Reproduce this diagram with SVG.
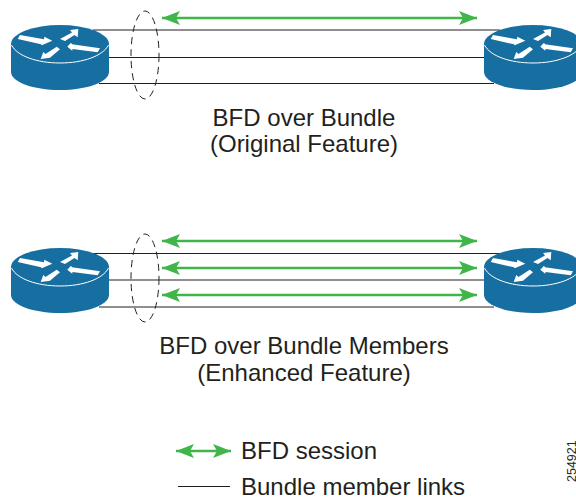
<svg xmlns="http://www.w3.org/2000/svg" width="576" height="497" viewBox="0 0 576 497">
<style>
text{font-family:"Liberation Sans",Arial,sans-serif;font-size:24px;fill:#231f20}
.c{text-anchor:middle}
.link{stroke:#231f20;stroke-width:1.2;fill:none}
.bfd{stroke:#3fb54a;stroke-width:2.4;fill:none;marker-start:url(#hs);marker-end:url(#he)}
.oval{stroke:#231f20;stroke-width:1;fill:none;stroke-dasharray:7 5}
</style>
<defs>
<marker id="he" markerUnits="userSpaceOnUse" markerWidth="19" markerHeight="16" refX="18" refY="8" orient="auto"><path d="M0 1L18 8L0 15L4 8Z" fill="#3fb54a"/></marker>
<marker id="hs" markerUnits="userSpaceOnUse" markerWidth="19" markerHeight="16" refX="1" refY="8" orient="auto"><path d="M19 1L1 8L19 15L15 8Z" fill="#3fb54a"/></marker>
<g id="router">
<path d="M0 19A49 19 0 0 1 98 19V47C98 57 76 65 49 65S0 57 0 47Z" fill="#166fa0"/>
<path d="M0.5 20C6 31 26 38 49 38S92 31 97.5 20" fill="none" stroke="#fff" stroke-width="1"/>
<path d="M9 10L33 14.3L33.3 11.7L41.3 15.7L30.7 20.3L30 19.3L6.7 14Z" fill="#fff"/>
<path d="M49 14L61 7.5L59 5L67.3 4L66.7 12.3L63.5 10L54 16Z" fill="#fff"/>
<path d="M56.3 21.7L60 17.7L61 19.3L89 23.3L86.7 27.3L61.5 24L61.3 25.7Z" fill="#fff"/>
<path d="M29.7 34L32.3 27L34.5 29L45.7 21.7L49 24.3L41 31L39 32.7Z" fill="#fff"/>
</g>
</defs>
<g id="connectors">
<path class="link" d="M93 30H500M109 57.5H484M99 83.5H494"/>
<path class="link" d="M93 253.5H500M109 280H484M99 307H494"/>
<path class="bfd" d="M162 18H477"/>
<path class="bfd" d="M162 241H477"/>
<path class="bfd" d="M162 268H477"/>
<path class="bfd" d="M162 295H477"/>
<ellipse class="oval" cx="145" cy="55" rx="14" ry="44"/>
<ellipse class="oval" cx="145" cy="278" rx="14" ry="44"/>
<path class="bfd" d="M176 451H231"/>
<path class="link" d="M178 486.5H230"/>
</g>
<g id="router-top-left"><use href="#router" x="11" y="25"/></g>
<g id="router-top-right"><use href="#router" x="484" y="25"/></g>
<g id="router-bottom-left"><use href="#router" x="11" y="248"/></g>
<g id="router-bottom-right"><use href="#router" x="484" y="248"/></g>
<g id="labels">
<text class="c" x="304" y="126">BFD over Bundle</text>
<text class="c" x="304" y="152">(Original Feature)</text>
<text class="c" x="304" y="354">BFD over Bundle Members</text>
<text class="c" x="304" y="381">(Enhanced Feature)</text>
<text x="241" y="459">BFD session</text>
<text x="241" y="495">Bundle member links</text>
<text x="0" y="0" transform="translate(576 482) rotate(-90)" style="font-size:12.5px">254921</text>
</g>
</svg>
